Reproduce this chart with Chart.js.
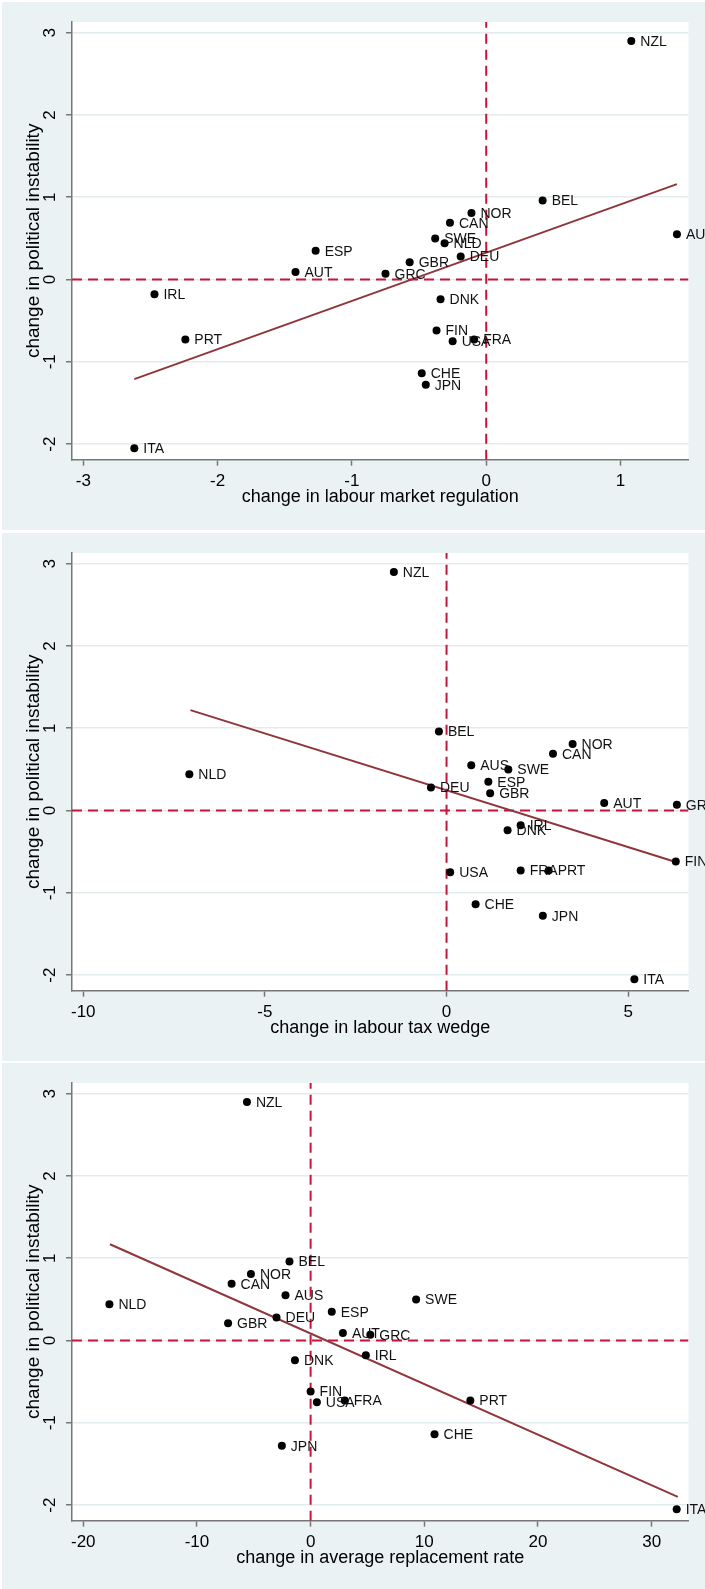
<!DOCTYPE html>
<html>
<head>
<meta charset="utf-8">
<script src="https://cdn.jsdelivr.net/npm/chart.js@4.4.0/dist/chart.umd.min.js"></script>
<style>
  html, body { margin: 0; padding: 0; background: #ffffff; }
  body { width: 705px; height: 1589px; overflow: hidden; }
  .panel { position: absolute; left: 2px; background: #eaf2f3; }
  canvas { display: block; }
</style>
</head>
<body>
<div class="panel" style="top:2px"><canvas id="c1" width="703" height="528"></canvas></div>
<div class="panel" style="top:533px"><canvas id="c2" width="703" height="528"></canvas></div>
<div class="panel" style="top:1063px"><canvas id="c3" width="703" height="526"></canvas></div>
<script>
// countries, same order in every series
var countries = ['NZL', 'BEL', 'NOR', 'CAN', 'AUS', 'SWE', 'NLD', 'ESP', 'DEU', 'GBR', 'AUT',
  'GRC', 'IRL', 'DNK', 'FIN', 'FRA', 'PRT', 'USA', 'CHE', 'JPN', 'ITA'];

// change in political instability (y of all three panels)
var instability = [2.90, 0.96, 0.81, 0.69, 0.55, 0.50, 0.44, 0.35, 0.28, 0.21, 0.09,
  0.07, -0.18, -0.24, -0.62, -0.73, -0.73, -0.75, -1.14, -1.28, -2.05];

// x series
var labourRegulation = [1.08, 0.42, -0.11, -0.27, 1.42, -0.38, -0.31, -1.27, -0.19, -0.57, -1.42,
  -0.75, -2.47, -0.34, -0.37, -0.09, -2.24, -0.25, -0.48, -0.45, -2.62];
var taxWedge = [-1.45, -0.21, 3.47, 2.93, 0.68, 1.70, -7.08, 1.15, -0.43, 1.20, 4.34,
  6.34, 2.04, 1.68, 6.31, 2.04, 2.81, 0.10, 0.80, 2.65, 5.17];
var replacementRate = [-5.6, -1.86, -5.25, -6.95, -2.21, 9.28, -17.7, 1.86, -3.0, -7.26, 2.84,
  5.25, 4.86, -1.38, 0.0, 3.0, 14.05, 0.55, 10.9, -2.53, 32.2];

// fitted line end points
var fitRegulationX = [-2.62, 1.42];
var fitRegulationY = [-1.21, 1.16];
var fitTaxX = [-7.05, 6.31];
var fitTaxY = [1.22, -0.625];
var fitReplacementX = [-17.65, 32.3];
var fitReplacementY = [1.17, -1.90];

// tick labels
var yTicks = [-2, -1, 0, 1, 2, 3];
var regulationTicks = [-3, -2, -1, 0, 1];
var taxTicks = [-10, -5, 0, 5];
var replacementTicks = [-20, -10, 0, 10, 20, 30];

var FONT = '"Liberation Sans", Arial, sans-serif';
var PLOT_TOP = 20;
var PLOT_BOTTOM = 457.7;

// white plot region
var plotBackground = {
  id: 'plotBackground',
  beforeDraw: function (chart) {
    var a = chart.chartArea;
    var ctx = chart.ctx;
    ctx.save();
    ctx.fillStyle = '#ffffff';
    ctx.fillRect(a.left, a.top, a.right - a.left, a.bottom - a.top);
    ctx.restore();
  }
};

// country codes to the right of each marker
var pointLabels = {
  id: 'pointLabels',
  afterDatasetsDraw: function (chart) {
    var meta = chart.getDatasetMeta(0);
    var ctx = chart.ctx;
    ctx.save();
    ctx.font = '14px ' + FONT;
    ctx.fillStyle = '#111111';
    ctx.textBaseline = 'middle';
    meta.data.forEach(function (pt, i) {
      ctx.fillText(countries[i], pt.x + 9, pt.y + 1);
    });
    ctx.restore();
  }
};

function makePanel(id, xValues, fitX, fitY, xTicks, xMin, xMax, xTitle) {
  var canvas = document.getElementById(id);
  var H = canvas.height;
  var yMin = -2.19, yMax = 3.13;
  var points = xValues.map(function (x, i) { return { x: x, y: instability[i] }; });
  var fit = fitX.map(function (x, i) { return { x: x, y: fitY[i] }; });

  return new Chart(canvas.getContext('2d'), {
    type: 'scatter',
    data: {
      datasets: [
        {
          data: points,
          backgroundColor: '#000000',
          borderColor: '#000000',
          pointRadius: 4,
          pointBorderWidth: 0
        },
        {
          data: fit,
          showLine: true,
          borderColor: '#90353b',
          borderWidth: 2,
          pointRadius: 0
        },
        {
          data: [{ x: 0, y: yMin }, { x: 0, y: yMax }],
          showLine: true,
          borderColor: '#c8143c',
          borderWidth: 2,
          borderDash: [10, 6],
          pointRadius: 0
        },
        {
          data: [{ x: xMin, y: 0 }, { x: xMax, y: 0 }],
          showLine: true,
          borderColor: '#c8143c',
          borderWidth: 2,
          borderDash: [10, 6],
          pointRadius: 0
        }
      ]
    },
    options: {
      responsive: false,
      animation: false,
      devicePixelRatio: 1,
      layout: { padding: { left: 0, top: PLOT_TOP, right: 16.5, bottom: 0 } },
      plugins: { legend: { display: false }, tooltip: { enabled: false } },
      scales: {
        x: {
          type: 'linear',
          min: xMin,
          max: xMax,
          afterBuildTicks: function (s) { s.ticks = xTicks.map(function (v) { return { value: v }; }); },
          afterFit: function (s) {
            s.height = H - PLOT_BOTTOM;
            s.paddingLeft = 0; s.paddingRight = 0;
          },
          grid: { drawOnChartArea: false, drawTicks: true, tickLength: 6, tickColor: '#777777', tickWidth: 1.5 },
          border: { display: true, color: '#777777', width: 1.5 },
          ticks: { color: '#000000', font: { family: FONT, size: 17 }, padding: 5, maxRotation: 0 },
          title: {
            display: true,
            text: xTitle,
            color: '#000000',
            font: { family: FONT, size: 18 },
            padding: { top: 0, bottom: (H - PLOT_BOTTOM) - 37.5 - 10.8 }
          }
        },
        y: {
          type: 'linear',
          min: yMin,
          max: yMax,
          afterBuildTicks: function (s) { s.ticks = yTicks.map(function (v) { return { value: v }; }); },
          afterFit: function (s) {
            s.width = 70;
            s.paddingTop = 0; s.paddingBottom = 0;
          },
          grid: { color: '#e3ebee', lineWidth: 1.5, drawTicks: true, tickLength: 6, tickColor: '#777777', tickWidth: 1.5 },
          border: { display: true, color: '#777777', width: 1.5 },
          ticks: { color: '#000000', font: { family: FONT, size: 17 }, padding: 8.5, minRotation: 90, maxRotation: 90, crossAlign: 'center' },
          title: {
            display: true,
            text: 'change in political instability',
            color: '#000000',
            font: { family: FONT, size: 19 },
            padding: { top: 20.6, bottom: 0 }
          }
        }
      }
    },
    plugins: [plotBackground, pointLabels]
  });
}

makePanel('c1', labourRegulation, fitRegulationX, fitRegulationY, regulationTicks, -3.084, 1.506,
  'change in labour market regulation');
makePanel('c2', taxWedge, fitTaxX, fitTaxY, taxTicks, -10.31, 6.66,
  'change in labour tax wedge');
makePanel('c3', replacementRate, fitReplacementX, fitReplacementY, replacementTicks, -20.99, 33.24,
  'change in average replacement rate');
</script>
</body>
</html>
